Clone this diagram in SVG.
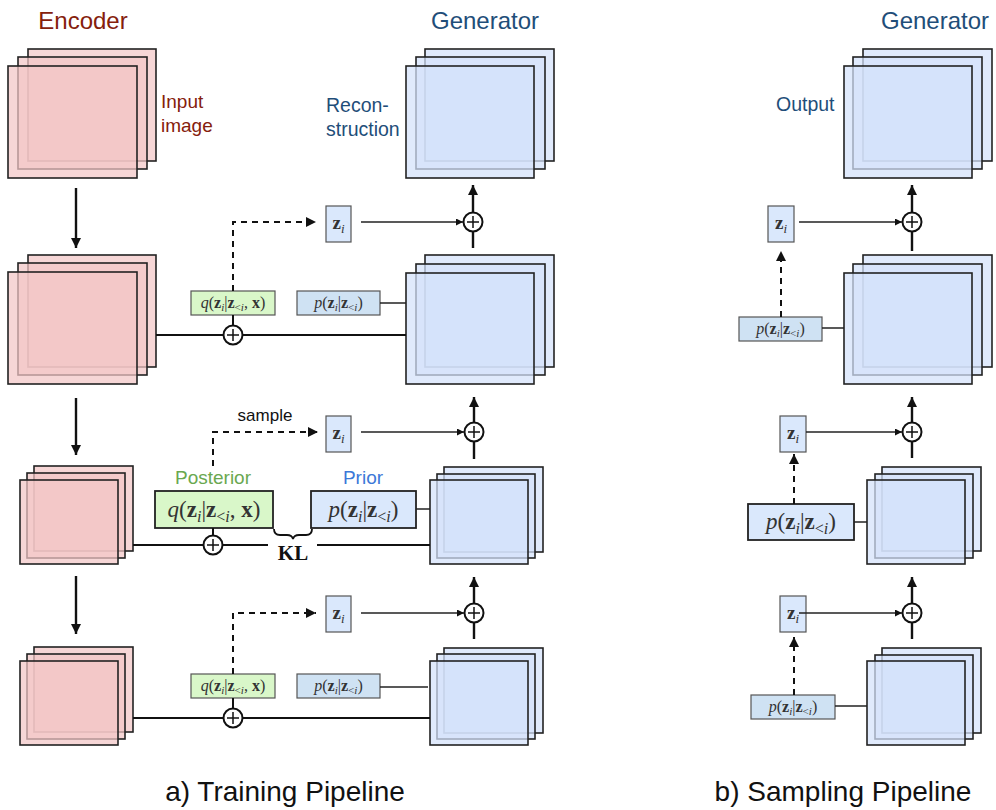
<svg xmlns="http://www.w3.org/2000/svg" xmlns:xlink="http://www.w3.org/1999/xlink" width="996" height="810" viewBox="0 0 996 810">
<style>
.enc{fill:#f2c6c6;fill-opacity:.72;stroke:#222;stroke-width:1.6}
.gen{fill:#d4e2fb;fill-opacity:.72;stroke:#222;stroke-width:1.6}
.zb{fill:#dae8fc;stroke:#555;stroke-width:1.2}
.qb{fill:#d9f7c9;stroke:#555;stroke-width:1.2}
.pb{fill:#cfe2f3;stroke:#555;stroke-width:1.2}
.qbl{fill:#d9f7c9;stroke:#222;stroke-width:1.8}
.pbl{fill:#dae8fc;stroke:#222;stroke-width:1.8}
.ln{stroke:#222;stroke-width:1.5;fill:none}
.lt{stroke:#111;stroke-width:2;fill:none}
.lv{stroke:#111;stroke-width:2.4;fill:none}
.dash{stroke:#111;stroke-width:2;stroke-dasharray:6 5;fill:none}
.plus circle{fill:#fff;stroke:#111;stroke-width:2}
.plus path{stroke:#111;stroke-width:1.5}
.sans{font-family:"Liberation Sans",Arial,sans-serif}
.m{font-family:"Liberation Serif","DejaVu Serif",serif;fill:#333;text-anchor:middle}
.b{font-weight:bold;font-style:normal}
.it{font-style:italic}
</style>
<defs>
<marker id="big" markerUnits="userSpaceOnUse" viewBox="0 0 10 10" refX="10" refY="5" markerWidth="11" markerHeight="10" orient="auto"><path d="M0,0L10,5L0,10z" fill="#111"/></marker>
<marker id="sm" markerUnits="userSpaceOnUse" viewBox="0 0 10 10" refX="10" refY="5" markerWidth="9" markerHeight="7" orient="auto"><path d="M0,0L10,5L0,10z" fill="#111"/></marker>
<g id="plus" class="plus"><circle r="9.5"/><path d="M-6,0H6M0,-6V6"/></g>
</defs>

<!-- titles -->
<g id="titles" class="sans">
<text x="83" y="29" font-size="24" fill="#85200c" text-anchor="middle">Encoder</text>
<text x="485" y="29" font-size="24" fill="#1f4e79" text-anchor="middle">Generator</text>
<text x="935" y="29" font-size="24" fill="#1f4e79" text-anchor="middle">Generator</text>
<text x="161" y="108" font-size="19" fill="#85200c">Input</text>
<text x="161" y="132" font-size="19" fill="#85200c">image</text>
<text x="326" y="112" font-size="19.5" fill="#1f4e79">Recon-</text>
<text x="326" y="136" font-size="19.5" fill="#1f4e79">struction</text>
<text x="776" y="111" font-size="19.5" fill="#1f4e79">Output</text>
<text x="265" y="421" font-size="17" fill="#111" text-anchor="middle">sample</text>
<text x="213" y="484" font-size="19" fill="#6aa84f" text-anchor="middle">Posterior</text>
<text x="363" y="484" font-size="19" fill="#3c78d8" text-anchor="middle">Prior</text>
<text x="285" y="801" font-size="28" fill="#111" text-anchor="middle">a) Training Pipeline</text>
<text x="843" y="801" font-size="28" fill="#111" text-anchor="middle">b) Sampling Pipeline</text>
</g>

<!-- encoder stacks -->
<g id="enc1"><rect class="enc" x="28" y="49" width="128" height="112"/><rect class="enc" x="18" y="57" width="129" height="112"/><rect class="enc" x="8" y="66" width="129" height="112"/></g>
<g id="enc2"><rect class="enc" x="28" y="255" width="128" height="112"/><rect class="enc" x="18" y="263" width="129" height="112"/><rect class="enc" x="8" y="272" width="129" height="112"/></g>
<g id="enc3"><rect class="enc" x="34" y="466" width="99" height="85"/><rect class="enc" x="27" y="473" width="98" height="85"/><rect class="enc" x="20" y="480" width="98" height="84"/></g>
<g id="enc4"><rect class="enc" x="34" y="647" width="99" height="85"/><rect class="enc" x="27" y="654" width="98" height="85"/><rect class="enc" x="20" y="661" width="98" height="84"/></g>

<!-- generator stacks (training) -->
<g id="gen1"><rect class="gen" x="425" y="49" width="129" height="112"/><rect class="gen" x="416" y="57" width="129" height="112"/><rect class="gen" x="406" y="66" width="128" height="112"/></g>
<g id="gen2"><rect class="gen" x="425" y="255" width="129" height="112"/><rect class="gen" x="416" y="264" width="129" height="111"/><rect class="gen" x="406" y="273" width="128" height="111"/></g>
<g id="gen3"><rect class="gen" x="444" y="467" width="99" height="85"/><rect class="gen" x="437" y="474" width="98" height="84"/><rect class="gen" x="430" y="480" width="98" height="84"/></g>
<g id="gen4"><rect class="gen" x="444" y="648" width="99" height="85"/><rect class="gen" x="437" y="654" width="98" height="85"/><rect class="gen" x="430" y="661" width="98" height="84"/></g>

<!-- generator stacks (sampling) -->
<g id="sgen1"><rect class="gen" x="863" y="49" width="129" height="112"/><rect class="gen" x="853" y="57" width="129" height="112"/><rect class="gen" x="844" y="66" width="128" height="112"/></g>
<g id="sgen2"><rect class="gen" x="863" y="255" width="129" height="112"/><rect class="gen" x="853" y="264" width="129" height="111"/><rect class="gen" x="844" y="273" width="128" height="111"/></g>
<g id="sgen3"><rect class="gen" x="882" y="467" width="99" height="84"/><rect class="gen" x="875" y="474" width="98" height="84"/><rect class="gen" x="867" y="480" width="98" height="84"/></g>
<g id="sgen4"><rect class="gen" x="882" y="648" width="99" height="85"/><rect class="gen" x="875" y="655" width="98" height="84"/><rect class="gen" x="867" y="661" width="98" height="84"/></g>

<!-- z boxes -->
<g id="z1"><rect class="zb" x="326" y="206" width="25" height="36"/><text class="m" x="338.5" y="229" font-size="19"><tspan class="b">z</tspan><tspan class="it" font-size="13" dy="4">i</tspan></text></g>
<g id="z2"><rect class="zb" x="326" y="416" width="25" height="36"/><text class="m" x="338.5" y="439" font-size="19"><tspan class="b">z</tspan><tspan class="it" font-size="13" dy="4">i</tspan></text></g>
<g id="z3"><rect class="zb" x="326" y="596" width="25" height="36"/><text class="m" x="338.5" y="619" font-size="19"><tspan class="b">z</tspan><tspan class="it" font-size="13" dy="4">i</tspan></text></g>
<g id="sz1"><rect class="zb" x="768" y="206" width="26" height="36"/><text class="m" x="781" y="229" font-size="19"><tspan class="b">z</tspan><tspan class="it" font-size="13" dy="4">i</tspan></text></g>
<g id="sz2"><rect class="zb" x="780" y="416" width="26" height="36"/><text class="m" x="793" y="439" font-size="19"><tspan class="b">z</tspan><tspan class="it" font-size="13" dy="4">i</tspan></text></g>
<g id="sz3"><rect class="zb" x="780" y="596" width="26" height="36"/><text class="m" x="793" y="619" font-size="19"><tspan class="b">z</tspan><tspan class="it" font-size="13" dy="4">i</tspan></text></g>

<!-- posterior / prior boxes -->
<g id="q1"><rect class="qb" x="191" y="291" width="84" height="24"/><text class="m" x="233" y="308" font-size="16"><tspan class="it">q</tspan>(<tspan class="b">z</tspan><tspan class="it" font-size="11" dy="3">i</tspan><tspan dy="-3">|</tspan><tspan class="b">z</tspan><tspan font-size="11" dy="3">&lt;<tspan class="it">i</tspan></tspan><tspan dy="-3">, </tspan><tspan class="b">x</tspan>)</text></g>
<g id="p1"><rect class="pb" x="297" y="291" width="83" height="24"/><text class="m" x="338.5" y="308" font-size="16"><tspan class="it">p</tspan>(<tspan class="b">z</tspan><tspan class="it" font-size="11" dy="3">i</tspan><tspan dy="-3">|</tspan><tspan class="b">z</tspan><tspan font-size="11" dy="3">&lt;<tspan class="it">i</tspan></tspan><tspan dy="-3">)</tspan></text></g>
<g id="q2"><rect class="qbl" x="155" y="491" width="118" height="37"/><text class="m" x="214" y="517" font-size="23"><tspan class="it">q</tspan>(<tspan class="b">z</tspan><tspan class="it" font-size="16" dy="5">i</tspan><tspan dy="-5">|</tspan><tspan class="b">z</tspan><tspan font-size="16" dy="5">&lt;<tspan class="it">i</tspan></tspan><tspan dy="-5">, </tspan><tspan class="b">x</tspan>)</text></g>
<g id="p2"><rect class="pbl" x="311" y="491" width="105" height="37"/><text class="m" x="363.5" y="517" font-size="23"><tspan class="it">p</tspan>(<tspan class="b">z</tspan><tspan class="it" font-size="16" dy="5">i</tspan><tspan dy="-5">|</tspan><tspan class="b">z</tspan><tspan font-size="16" dy="5">&lt;<tspan class="it">i</tspan></tspan><tspan dy="-5">)</tspan></text></g>
<g id="q3"><rect class="qb" x="191" y="674" width="84" height="24"/><text class="m" x="233" y="691" font-size="16"><tspan class="it">q</tspan>(<tspan class="b">z</tspan><tspan class="it" font-size="11" dy="3">i</tspan><tspan dy="-3">|</tspan><tspan class="b">z</tspan><tspan font-size="11" dy="3">&lt;<tspan class="it">i</tspan></tspan><tspan dy="-3">, </tspan><tspan class="b">x</tspan>)</text></g>
<g id="p3"><rect class="pb" x="297" y="674" width="83" height="24"/><text class="m" x="338.5" y="691" font-size="16"><tspan class="it">p</tspan>(<tspan class="b">z</tspan><tspan class="it" font-size="11" dy="3">i</tspan><tspan dy="-3">|</tspan><tspan class="b">z</tspan><tspan font-size="11" dy="3">&lt;<tspan class="it">i</tspan></tspan><tspan dy="-3">)</tspan></text></g>
<g id="sp1"><rect class="pb" x="739" y="317" width="83" height="24"/><text class="m" x="780.5" y="334" font-size="16"><tspan class="it">p</tspan>(<tspan class="b">z</tspan><tspan class="it" font-size="11" dy="3">i</tspan><tspan dy="-3">|</tspan><tspan class="b">z</tspan><tspan font-size="11" dy="3">&lt;<tspan class="it">i</tspan></tspan><tspan dy="-3">)</tspan></text></g>
<g id="sp2"><rect class="pbl" x="748" y="504" width="106" height="36"/><text class="m" x="801" y="529" font-size="23"><tspan class="it">p</tspan>(<tspan class="b">z</tspan><tspan class="it" font-size="16" dy="5">i</tspan><tspan dy="-5">|</tspan><tspan class="b">z</tspan><tspan font-size="16" dy="5">&lt;<tspan class="it">i</tspan></tspan><tspan dy="-5">)</tspan></text></g>
<g id="sp3"><rect class="pb" x="751" y="695" width="84" height="24"/><text class="m" x="793" y="712" font-size="16"><tspan class="it">p</tspan>(<tspan class="b">z</tspan><tspan class="it" font-size="11" dy="3">i</tspan><tspan dy="-3">|</tspan><tspan class="b">z</tspan><tspan font-size="11" dy="3">&lt;<tspan class="it">i</tspan></tspan><tspan dy="-3">)</tspan></text></g>

<!-- KL -->
<g id="kl">
<path d="M274,529 q0,6 6,6 h7 q5,0 6,4 q1,-4 6,-4 h7 q6,0 6,-6" fill="none" stroke="#111" stroke-width="1.8"/>
<text x="293" y="560" font-family="Liberation Serif,DejaVu Serif,serif" font-weight="bold" font-size="21" fill="#111" text-anchor="middle">KL</text>
</g>

<!-- connectors -->
<g id="connectors">
<path class="lv" d="M76,188V248" marker-end="url(#big)"/>
<path class="lv" d="M76,398V455" marker-end="url(#big)"/>
<path class="lv" d="M76,576V634" marker-end="url(#big)"/>
<path class="lt" d="M156,335H406"/>
<path class="lt" d="M133,545H268M317,545H430"/>
<path class="lt" d="M133,718H430"/>
<path class="lt" d="M233,315V326"/>
<path class="lt" d="M213,528V536"/>
<path class="lt" d="M233,698V709"/>
<path class="ln" d="M380,303H406"/>
<path class="ln" d="M416,509H430"/>
<path class="ln" d="M380,687H428"/>
<path class="ln" d="M822,328H844"/>
<path class="ln" d="M854,522H867"/>
<path class="ln" d="M835,706H867"/>
<path class="dash" d="M233,291V222H316" marker-end="url(#big)"/>
<path class="dash" d="M213,466V432H318" marker-end="url(#big)"/>
<path class="dash" d="M233,674V613H316" marker-end="url(#big)"/>
<path class="dash" d="M781,317V251" marker-end="url(#big)"/>
<path class="dash" d="M794,504V454" marker-end="url(#big)"/>
<path class="dash" d="M794,695V637" marker-end="url(#big)"/>
<path class="ln" d="M361,222H463" marker-end="url(#sm)"/>
<path class="ln" d="M361,432H464" marker-end="url(#sm)"/>
<path class="ln" d="M361,613H464" marker-end="url(#sm)"/>
<path class="ln" d="M799,222H902" marker-end="url(#sm)"/>
<path class="ln" d="M806,432H902" marker-end="url(#sm)"/>
<path class="ln" d="M799,613H902" marker-end="url(#sm)"/>
<path class="lv" d="M473,248V232M473,212V185" marker-end="url(#big)"/>
<path class="lv" d="M474,459V442M474,422V397" marker-end="url(#big)"/>
<path class="lv" d="M474,639V623M474,603V577" marker-end="url(#big)"/>
<path class="lv" d="M912,251V232M912,212V185" marker-end="url(#big)"/>
<path class="lv" d="M912,458V442M912,422V397" marker-end="url(#big)"/>
<path class="lv" d="M912,639V623M912,603V577" marker-end="url(#big)"/>
<use xlink:href="#plus" x="233" y="335"/>
<use xlink:href="#plus" x="213" y="545"/>
<use xlink:href="#plus" x="233" y="718"/>
<use xlink:href="#plus" x="473" y="222"/>
<use xlink:href="#plus" x="474" y="432"/>
<use xlink:href="#plus" x="474" y="613"/>
<use xlink:href="#plus" x="912" y="222"/>
<use xlink:href="#plus" x="912" y="432"/>
<use xlink:href="#plus" x="912" y="613"/>
</g>
</svg>
